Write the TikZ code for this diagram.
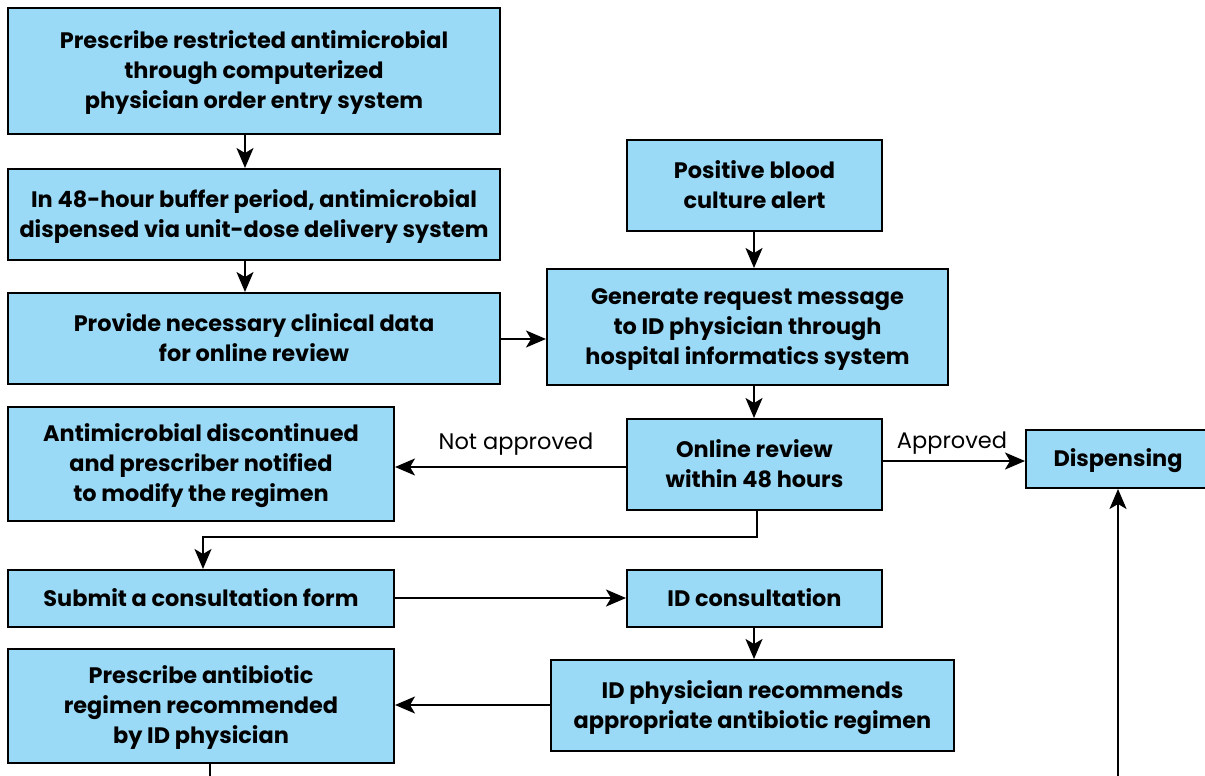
\documentclass[tikz,border=0pt]{standalone}
\usepackage{fontspec}
\setmainfont{Poppins}
\usetikzlibrary{arrows.meta}
\definecolor{boxblue}{HTML}{9ADAF6}
% struts for the first and last line, so that the capitals sit centred in a box
\newcommand{\topstrut}{\rule{0pt}{23.7pt}}
\newcommand{\botstrut}{\rule[-8pt]{0pt}{0pt}}
\begin{document}
\begin{tikzpicture}[x=1pt,y=-1pt,
  box/.style={draw=black,line width=2pt,fill=boxblue,inner sep=0pt,
    align=center,font=\bfseries\fontsize{22.4}{30}\selectfont},
  flow/.style={line width=2pt,-{Stealth[length=20pt,width=17pt,inset=5pt]}},
  lbl/.style={font=\fontsize{22.5}{26}\selectfont,inner sep=0pt,anchor=base}]
\useasboundingbox (0,0) rectangle (1205,776);
\clip (0,0) rectangle (1205,776);
% boxes: centre at the middle of each rectangle
\node[box,minimum width=492pt,minimum height=126pt] (presc) at (254,71)
  {\topstrut Prescribe restricted antimicrobial\\through computerized\\physician order entry system\botstrut};
\node[box,minimum width=492pt,minimum height=91pt] (buffer) at (254,214.5)
  {\topstrut In 48-hour buffer period, antimicrobial\\dispensed via unit-dose delivery system\botstrut};
\node[box,minimum width=492pt,minimum height=91pt] (clin) at (254,338.5)
  {\topstrut Provide necessary clinical data\\for online review\botstrut};
\node[box,minimum width=255pt,minimum height=91pt] (blood) at (754.5,185.5)
  {\topstrut Positive blood\\culture alert\botstrut};
\node[box,minimum width=401pt,minimum height=116pt] (req) at (747.5,327)
  {\topstrut Generate request message\\to ID physician through\\hospital informatics system\botstrut};
\node[box,minimum width=255pt,minimum height=91pt] (review) at (754.5,464.5)
  {\topstrut Online review\\within 48 hours\botstrut};
\node[box,minimum width=184pt,minimum height=58pt] (disp) at (1118,459)
  {\topstrut Dispensing\botstrut};
\node[box,minimum width=386pt,minimum height=114pt] (disc) at (201,464)
  {\topstrut Antimicrobial discontinued\\and prescriber notified\\to modify the regimen\botstrut};
\node[box,minimum width=386pt,minimum height=57pt] (submit) at (201,598.5)
  {\topstrut Submit a consultation form\botstrut};
\node[box,minimum width=255pt,minimum height=57pt] (consult) at (754.5,598.5)
  {\topstrut ID consultation\botstrut};
\node[box,minimum width=386pt,minimum height=114pt] (regimen) at (201,706)
  {\topstrut Prescribe antibiotic\\regimen recommended\\by ID physician\botstrut};
\node[box,minimum width=403pt,minimum height=91pt] (recom) at (752.5,705.5)
  {\topstrut ID physician recommends\\appropriate antibiotic regimen\botstrut};
% branch labels
\node[lbl] (notok) at (516,449) {Not approved};
\node[lbl] (ok) at (952,448) {Approved};
% loose ends leaving the lower edge
\coordinate (dispin) at (1118,790);
\coordinate (regout) at (210,790);
% connectors
\draw[flow] (presc.south -| 245,0) -- (buffer.north -| 245,0);
\draw[flow] (buffer.south -| 245,0) -- (clin.north -| 245,0);
\draw[flow] (clin.east |- 0,339) -- (req.west |- 0,339);
\draw[flow] (blood.south -| 754,0) -- (req.north -| 754,0);
\draw[flow] (req.south -| 754,0) -- (review.north -| 754,0);
\draw[flow] (review.west |- 0,467) -- (disc.east |- 0,467);
\draw[flow] (review.east |- 0,461) -- (disp.west |- 0,461);
\draw[flow] (review.south -| 757,0) -- (757,537) -- (203,537) -- (submit.north -| 203,0);
\draw[flow] (submit.east |- 0,598) -- (consult.west |- 0,598);
\draw[flow] (consult.south -| 754,0) -- (recom.north -| 754,0);
\draw[flow] (recom.west |- 0,705) -- (regimen.east |- 0,705);
\draw[line width=2pt] (regimen.south -| 210,0) -- (regout);
\draw[flow] (dispin) -- (disp.south -| 1118,0);
\end{tikzpicture}
\end{document}
